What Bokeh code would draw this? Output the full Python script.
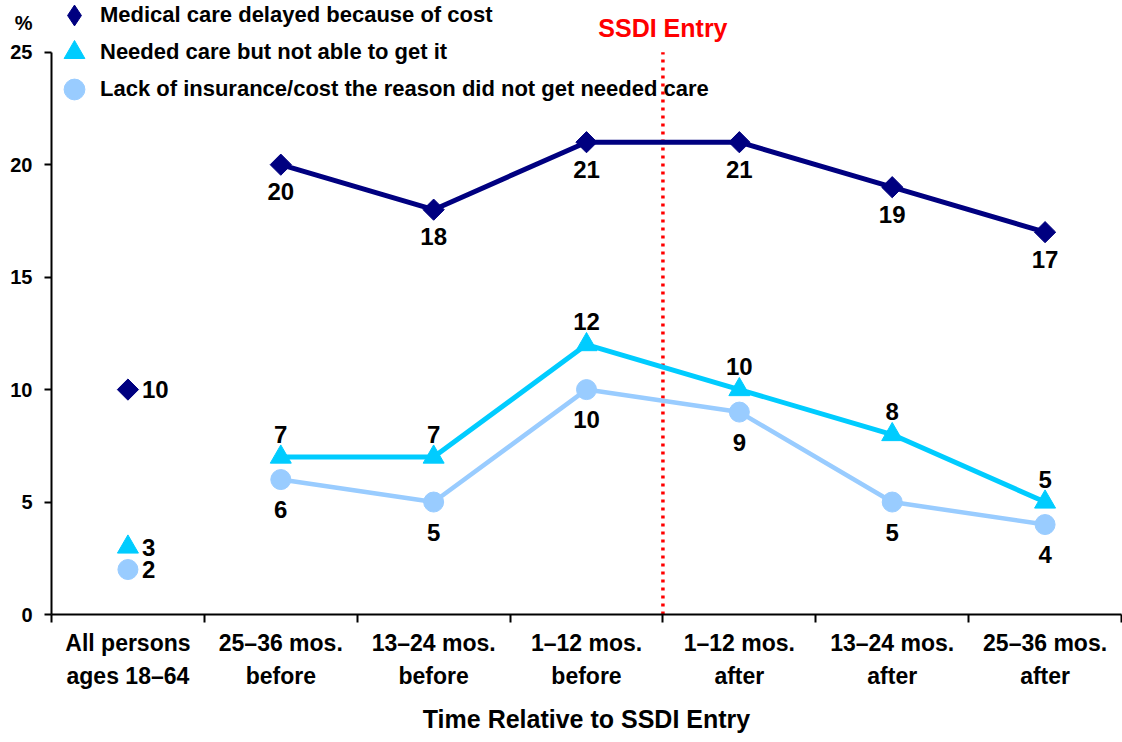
import math
from bokeh.plotting import figure
from bokeh.models import (Range1d, FixedTicker, Legend, LegendItem, Label, Title,
                          ColumnDataSource)
from bokeh.embed import file_html
from bokeh.resources import INLINE
from bokeh.core.properties import value

# ---------------- data ----------------
categories = ["All persons\nages 18–64", "25–36 mos.\nbefore", "13–24 mos.\nbefore",
              "1–12 mos.\nbefore", "1–12 mos.\nafter", "13–24 mos.\nafter",
              "25–36 mos.\nafter"]
delayed = [10, 20, 18, 21, 21, 19, 17]
needed = [3, 7, 7, 12, 10, 8, 5]
lack = [2, 6, 5, 10, 9, 5, 4]
series_names = ["Medical care delayed because of cost",
                "Needed care but not able to get it",
                "Lack of insurance/cost the reason did not get needed care"]
y_ticks = [0, 5, 10, 15, 20, 25]
y_unit = "%"
entry_label = "SSDI Entry"
x_title = "Time Relative to SSDI Entry"

NAVY = "#000080"
CYAN = "#00CCFF"
LIGHT = "#99CCFF"
FONT = "Liberation Sans"

xs = list(range(1, len(categories) + 1))
boundaries = [x - 0.5 for x in xs] + [xs[-1] + 0.5]
entry_pos = (xs[3] + xs[4]) / 2
y_max = y_ticks[-1]
y_top = 27.3          # frame extends above the axis so the legend fits inside
unit_pos = 26.3       # where the "%" unit sits, above the top tick

p = figure(width=1122, height=742, x_range=Range1d(boundaries[0], boundaries[-1]),
           y_range=Range1d(0, y_top), output_backend="svg", toolbar_location=None,
           min_border_left=51, min_border_right=1, min_border_top=0,
           min_border_bottom=126)
p.outline_line_color = None
p.grid.visible = False

# x axis: ticks at category boundaries, labels at centres
p.xaxis.ticker = FixedTicker(ticks=xs, minor_ticks=boundaries)
p.xaxis.major_label_overrides = {x: c for x, c in zip(xs, categories)}
p.xaxis.major_tick_line_color = None
p.xaxis.minor_tick_out = 8
p.xaxis.minor_tick_in = 0
p.xaxis.minor_tick_line_width = 2
p.xaxis.minor_tick_line_color = "black"
p.xaxis.major_label_text_font = FONT
p.xaxis.major_label_text_font_style = "bold"
p.xaxis.major_label_text_font_size = "23px"
p.xaxis.major_label_text_color = "black"
p.xaxis.major_label_text_line_height = 1.3
p.xaxis.major_label_standoff = 7
p.xaxis.axis_line_width = 2
p.xaxis.axis_line_color = "black"

# y axis: line only up to 25, "%" shown as a label above the top tick
p.yaxis.bounds = (0, y_max)
p.yaxis.ticker = FixedTicker(ticks=y_ticks + [unit_pos], minor_ticks=y_ticks)
p.yaxis.major_label_overrides = {unit_pos: y_unit}
p.yaxis.major_tick_line_color = None
p.yaxis.minor_tick_out = 7
p.yaxis.minor_tick_in = 0
p.yaxis.minor_tick_line_width = 2
p.yaxis.minor_tick_line_color = "black"
p.yaxis.major_label_text_font = FONT
p.yaxis.major_label_text_font_style = "bold"
p.yaxis.major_label_text_font_size = "20px"
p.yaxis.major_label_text_color = "black"
p.yaxis.major_label_standoff = 12
p.yaxis.axis_line_width = 2
p.yaxis.axis_line_color = "black"

# SSDI entry line
p.segment(x0=[entry_pos], y0=[0], x1=[entry_pos], y1=[y_max], line_color="red",
          line_width=3.5, line_dash="3 5")

# series lines (excluding the "All persons" reference point)
p.line(xs[1:], delayed[1:], line_color=NAVY, line_width=5)
p.line(xs[1:], needed[1:], line_color=CYAN, line_width=5)
p.line(xs[1:], lack[1:], line_color=LIGHT, line_width=4.5)

# markers
r_del = p.scatter(xs, delayed, marker="square", angle=math.pi / 4, size=15,
                  fill_color=NAVY, line_color=NAVY)
r_need = p.scatter(xs, needed, marker="triangle", size=21,
                   fill_color=CYAN, line_color=CYAN)
r_lack = p.scatter(xs, lack, marker="circle", size=20,
                   fill_color=LIGHT, line_color=LIGHT)
# legend proxy for the diamond
r_del_leg = p.scatter(xs[:1], delayed[:1], marker="diamond", size=21,
                      fill_color=NAVY, line_color=NAVY, visible=False)

# data labels
def add_labels(vals, dy):
    src = ColumnDataSource(dict(x=xs[1:], y=vals[1:], t=[str(v) for v in vals[1:]]))
    p.text("x", "y", text="t", source=src, text_align="center",
           text_baseline="middle", y_offset=dy, text_font=value(FONT),
           text_font_style="bold", text_font_size="24px", text_color="black")
    src0 = ColumnDataSource(dict(x=xs[:1], y=vals[:1], t=[str(v) for v in vals[:1]]))
    p.text("x", "y", text="t", source=src0, text_align="left",
           text_baseline="middle", x_offset=14, text_font=value(FONT),
           text_font_style="bold", text_font_size="24px", text_color="black")

add_labels(delayed, 27)
add_labels(needed, -23)
add_labels(lack, 30)

p.add_layout(Label(x=entry_pos, y=y_max, y_offset=24, text=entry_label,
                   text_align="center", text_baseline="middle",
                   text_font=FONT, text_font_style="bold",
                   text_font_size="25px", text_color="red"))

p.add_layout(Title(text=x_title, align="center", offset=81, standoff=20,
                   text_font=FONT, text_font_style="bold",
                   text_font_size="25px", text_color="black"), "below")

# one legend per row so the rows sit closer than the glyph boxes
legend_renderers = [r_del_leg, r_need, r_lack]
legend_bottoms = [573, 536, 499]   # px above the frame bottom
for name, rend, yb in zip(series_names, legend_renderers, legend_bottoms):
    lg = Legend(items=[LegendItem(label=name, renderers=[rend])],
                location=(-3, yb), glyph_width=52, glyph_height=52, spacing=0,
                label_standoff=0, label_height=22, padding=0, margin=0,
                border_line_color=None, background_fill_alpha=0,
                label_text_font=FONT, label_text_font_style="bold",
                label_text_font_size="22px", label_text_color="black")
    p.add_layout(lg)

open("out.html", "w").write(file_html(p, INLINE))
